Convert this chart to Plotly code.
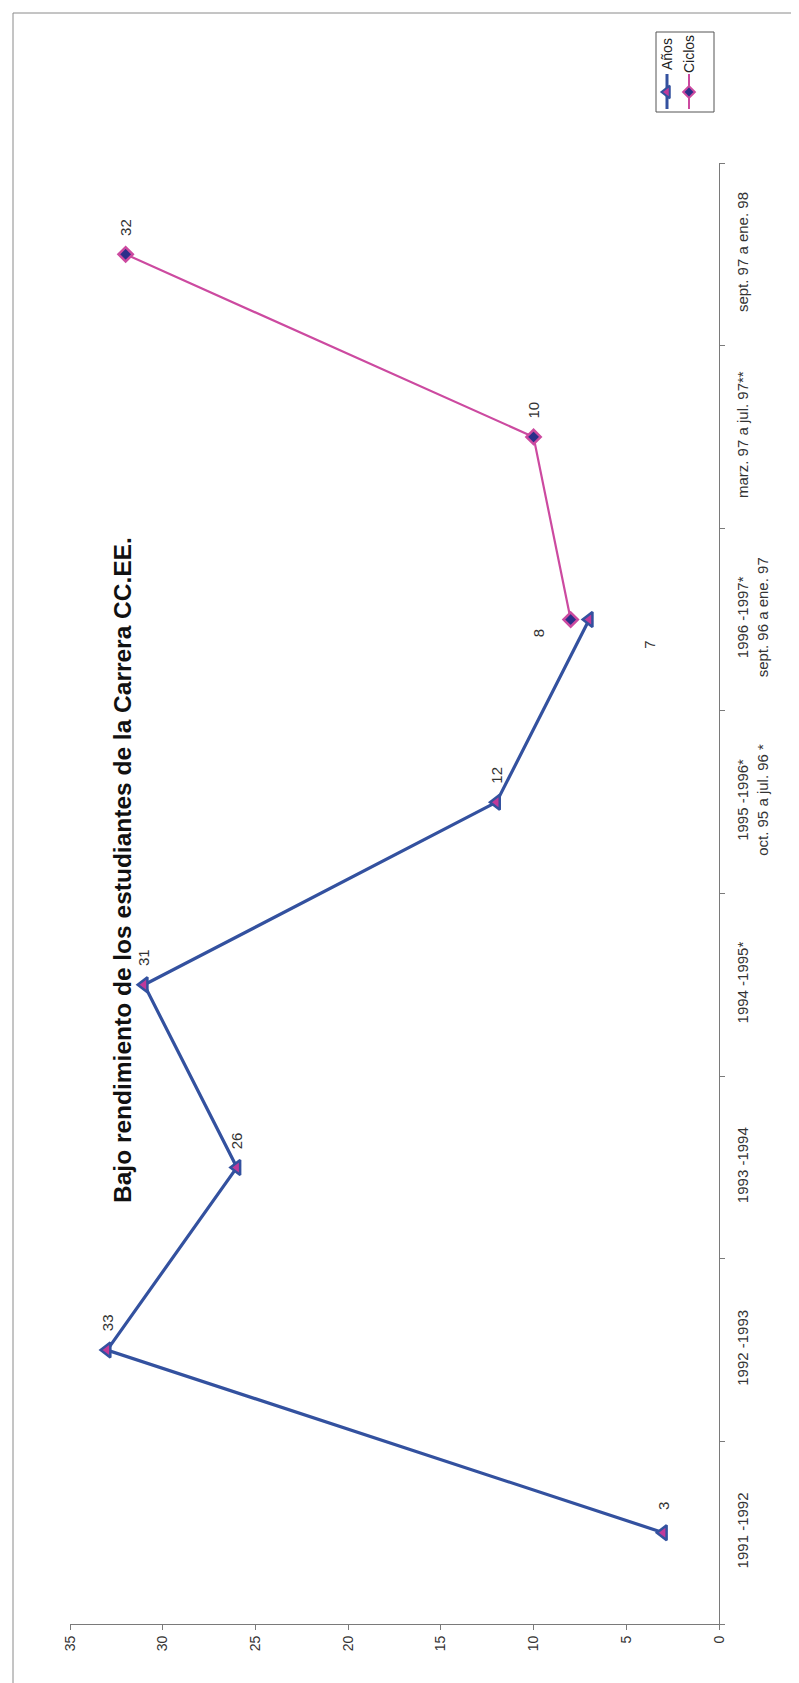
import plotly.graph_objects as go

# ---------------- data ----------------
categories = [
    "1991 -1992",
    "1992 -1993",
    "1993 -1994",
    "1994 -1995*",
    "1995 -1996*<br>oct. 95 a jul. 96 *",
    "1996 -1997*<br>sept. 96 a ene. 97",
    "marz. 97 a jul. 97**",
    "sept. 97 a ene. 98",
]
anios_cats = categories[:6]
anios_vals = [3, 33, 26, 31, 12, 7]
ciclos_cats = categories[5:]
ciclos_vals = [8, 10, 32]
value_ticks = [0, 5, 10, 15, 20, 25, 30, 35]
series_names = ["Años", "Ciclos"]
title_text = "Bajo rendimiento de los estudiantes de la Carrera CC.EE."

# ---------------- layout geometry (pixels) ----------------
W, H = 799, 1683
PX0, PX1 = 62, 711      # value 35 -> value 0
PY0, PY1 = 155, 1616    # top / bottom of category axis

def fx(p):
    return p / W

def fy(p):
    return 1 - p / H

FONT = "Arial, Liberation Sans, sans-serif"
C_ANIOS = "#33519f"
C_ANIOS_FILL = "#c03a9a"
C_CICLOS = "#cc4aa0"
C_CICLOS_FILL = "#2a2f8a"
TXT = "#333333"

fig = go.Figure()

fig.add_trace(go.Scatter(
    x=anios_vals, y=anios_cats, mode="lines+markers", name=series_names[0],
    line=dict(color=C_ANIOS, width=3.2),
    marker=dict(symbol="triangle-left", size=13, color=C_ANIOS_FILL,
                line=dict(color=C_ANIOS, width=2.5)),
    showlegend=False, xaxis="x", yaxis="y",
))
fig.add_trace(go.Scatter(
    x=ciclos_vals, y=ciclos_cats, mode="lines+markers", name=series_names[1],
    line=dict(color=C_CICLOS, width=2.2),
    marker=dict(symbol="diamond", size=11, color=C_CICLOS_FILL,
                line=dict(color=C_CICLOS, width=2.5)),
    showlegend=False, xaxis="x", yaxis="y",
))

annotations = []
# data labels (rotated)
a_shift = {7: (60, -25)}
for c, v in zip(anios_cats, anios_vals):
    dx, dy = a_shift.get(v, (0, 27))
    annotations.append(dict(x=v, y=c, xref="x", yref="y", text=str(v), showarrow=False,
                            textangle=-90, xshift=dx, yshift=dy, xanchor="center", yanchor="middle",
                            font=dict(family=FONT, size=15, color=TXT)))
c_shift = {8: (-32, -14)}
for c, v in zip(ciclos_cats, ciclos_vals):
    dx, dy = c_shift.get(v, (0, 27))
    annotations.append(dict(x=v, y=c, xref="x", yref="y", text=str(v), showarrow=False,
                            textangle=-90, xshift=dx, yshift=dy, xanchor="center", yanchor="middle",
                            font=dict(family=FONT, size=15, color=TXT)))

# title
annotations.append(dict(x=fx(114), y=fy(862), xref="paper", yref="paper",
                        text="<b>" + title_text + "</b>", showarrow=False, textangle=-90,
                        xanchor="center", yanchor="middle",
                        font=dict(family=FONT, size=24.5, color="#111111")))

# legend (rotated) texts
LBX0, LBX1, LBY0, LBY1 = 648, 706, 24, 104
LEG_X = [659, 681]
for name, lx in zip(series_names, LEG_X):
    annotations.append(dict(x=fx(lx), y=fy(46), xref="paper", yref="paper", text=name,
                            showarrow=False, textangle=-90, xanchor="center", yanchor="middle",
                            font=dict(family=FONT, size=14, color="#222222")))

def lx_dom(p):
    return (p - LBX0) / (LBX1 - LBX0)

def ly_dom(p):
    return (LBY1 - p) / (LBY1 - LBY0)

# legend samples on an auxiliary axis placed over the legend box
fig.add_trace(go.Scatter(x=[lx_dom(LEG_X[0])] * 2, y=[ly_dom(101), ly_dom(66)], mode="lines",
                         line=dict(color=C_ANIOS, width=3), xaxis="x3", yaxis="y3",
                         showlegend=False, hoverinfo="skip"))
fig.add_trace(go.Scatter(x=[lx_dom(LEG_X[0])], y=[ly_dom(84)], mode="markers",
                         marker=dict(symbol="triangle-left", size=11, color=C_ANIOS_FILL,
                                     line=dict(color=C_ANIOS, width=2)),
                         xaxis="x3", yaxis="y3", showlegend=False, hoverinfo="skip"))
fig.add_trace(go.Scatter(x=[lx_dom(LEG_X[1])] * 2, y=[ly_dom(101), ly_dom(66)], mode="lines",
                         line=dict(color=C_CICLOS, width=2), xaxis="x3", yaxis="y3",
                         showlegend=False, hoverinfo="skip"))
fig.add_trace(go.Scatter(x=[lx_dom(LEG_X[1])], y=[ly_dom(84)], mode="markers",
                         marker=dict(symbol="diamond", size=9, color=C_CICLOS_FILL,
                                     line=dict(color=C_CICLOS, width=2)),
                         xaxis="x3", yaxis="y3", showlegend=False, hoverinfo="skip"))

shapes = [
    # outer chart frame
    dict(type="rect", xref="paper", yref="paper", x0=fx(5), x1=fx(794), y0=fy(1679), y1=fy(5),
         line=dict(color="#8a8a8a", width=1)),
    # legend box
    dict(type="rect", xref="paper", yref="paper", x0=fx(LBX0), x1=fx(LBX1), y0=fy(LBY1), y1=fy(LBY0),
         line=dict(color="#555555", width=1)),
]

fig.update_layout(
    width=W, height=H,
    margin=dict(l=0, r=0, t=0, b=0),
    paper_bgcolor="white", plot_bgcolor="white",
    font=dict(family=FONT, color=TXT),
    showlegend=False,
    xaxis=dict(domain=[fx(PX0), fx(PX1)], range=[35, 0], tickvals=value_ticks,
               ticks="outside", ticklen=5, tickcolor="#7a7a7a", showgrid=False, zeroline=False,
               showline=True, linecolor="#7a7a7a", linewidth=1, tickangle=-90,
               tickfont=dict(family=FONT, size=14, color=TXT), anchor="y",
               ticklabelstandoff=0, automargin=False),
    xaxis2=dict(domain=[fx(PX0), fx(PX1)], range=[35, 0], tickvals=value_ticks, overlaying="x",
                ticks="inside", ticklen=5, tickcolor="#7a7a7a", showticklabels=False,
                showgrid=False, zeroline=False, showline=False, anchor="y"),
    yaxis=dict(domain=[fy(PY1), fy(PY0)], type="category", categoryorder="array",
               categoryarray=categories, range=[-0.5, len(categories) - 0.5],
               side="right", anchor="x", tickson="boundaries", ticks="outside", ticklen=5,
               tickcolor="#7a7a7a", showgrid=False, zeroline=False, showline=True,
               linecolor="#7a7a7a", linewidth=1, tickangle=-90,
               tickfont=dict(family=FONT, size=15, color=TXT), ticklabelstandoff=10,
               automargin=False),
    yaxis2=dict(domain=[fy(PY1), fy(PY0)], range=[-0.5, len(categories) - 0.5],
                tickvals=[i - 0.5 for i in range(len(categories) + 1)], overlaying="y",
                side="right", anchor="x", ticks="inside", ticklen=5, tickcolor="#7a7a7a",
                showticklabels=False, showgrid=False, zeroline=False, showline=False),
    xaxis3=dict(domain=[fx(LBX0), fx(LBX1)], range=[0, 1], visible=False, anchor="y3"),
    yaxis3=dict(domain=[fy(LBY1), fy(LBY0)], range=[0, 1], visible=False, anchor="x3"),
    annotations=annotations,
    shapes=shapes,
)

fig.write_html("out.html")
